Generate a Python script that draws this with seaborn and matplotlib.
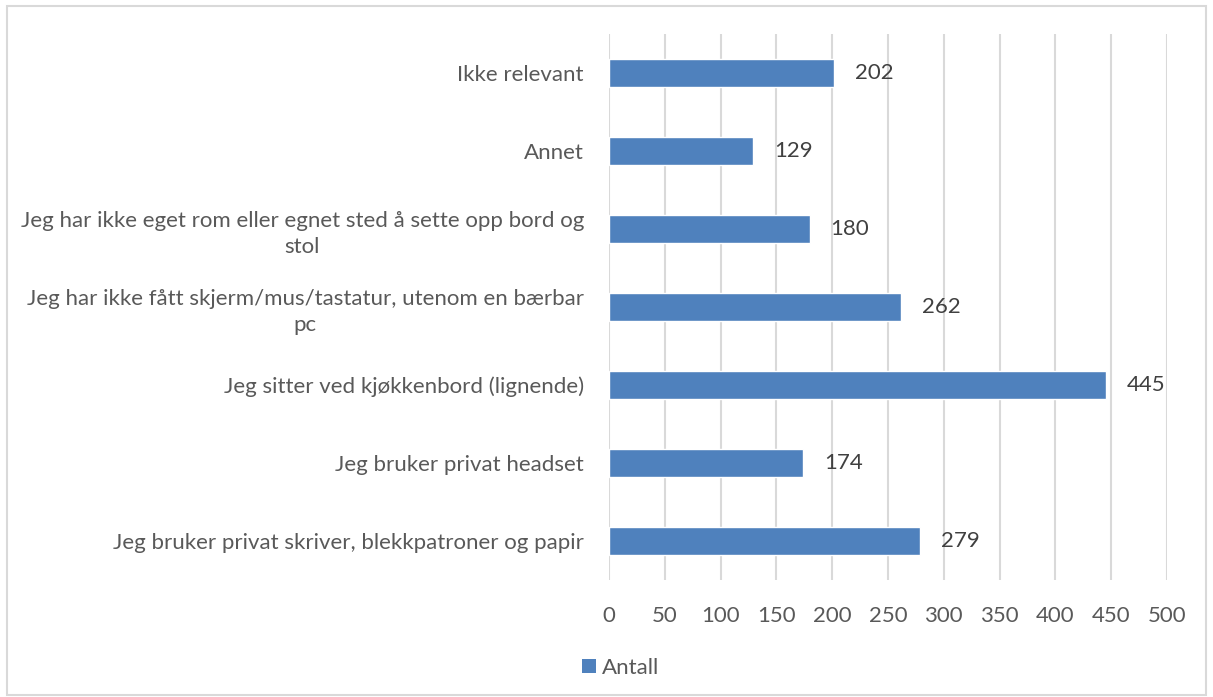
import matplotlib
matplotlib.use("Agg")
import matplotlib.pyplot as plt
import seaborn as sns
import pandas as pd
from matplotlib.patches import Rectangle, Patch

categories = [
    "Ikke relevant",
    "Annet",
    "Jeg har ikke eget rom eller egnet sted å sette opp bord og\nstol",
    "Jeg har ikke fått skjerm/mus/tastatur, utenom en bærbar\npc",
    "Jeg sitter ved kjøkkenbord (lignende)",
    "Jeg bruker privat headset",
    "Jeg bruker privat skriver, blekkpatroner og papir",
]
values = [202, 129, 180, 262, 445, 174, 279]
series_name = "Antall"
xticks = [0, 50, 100, 150, 200, 250, 300, 350, 400, 450, 500]

sns.set_theme(style="white")
plt.rcParams['font.family'] = ['Lato', 'DejaVu Sans']

text_color = "#595959"
bar_color = "#4F81BD"
grid_color = "#D9D9D9"
fs = 16

df = pd.DataFrame({"cat": categories, "val": values})

fig = plt.figure(figsize=(12.13, 6.97), dpi=100)
ax = fig.add_axes([0.502, 0.168, 0.460, 0.783])

sns.barplot(data=df, x="val", y="cat", color=bar_color, width=0.36,
            saturation=1, ax=ax, orient="h")

ax.set_xlim(0, 500)
ax.set_xticks(xticks)
ax.set_xticklabels([str(t) for t in xticks], fontsize=fs, color=text_color)
ax.set_ylim(len(categories) - 0.5, -0.5)
for lbl in ax.get_yticklabels():
    lbl.set_fontsize(fs)
    lbl.set_color(text_color)
    lbl.set_multialignment("center")
    lbl.set_linespacing(1.35)
ax.set_xlabel("")
ax.set_ylabel("")
ax.tick_params(axis="both", length=0)
ax.tick_params(axis="x", pad=19)
ax.tick_params(axis="y", pad=18)
for s in ax.spines.values():
    s.set_visible(False)
ax.set_axisbelow(True)
ax.xaxis.grid(True, color=grid_color, linewidth=1.5)
ax.yaxis.grid(False)

for i, v in enumerate(values):
    ax.annotate(str(v), xy=(v, i), xytext=(15, 0), textcoords="offset points",
                ha="left", va="center", fontsize=fs, color="#404040")

handles = [Patch(facecolor=bar_color, edgecolor="none", label=series_name)]
fig.legend(handles=handles, loc="center", bbox_to_anchor=(0.512, 0.042),
           frameon=False, fontsize=fs, handlelength=0.6, handleheight=0.6,
           handletextpad=0.3, labelcolor=text_color)

fig.patches.append(Rectangle((0.006, 0.003), 0.988, 0.989, transform=fig.transFigure,
                             fill=False, edgecolor="#D9D9D9", linewidth=1.5))

fig.savefig("out.png", dpi=100, facecolor="white")
